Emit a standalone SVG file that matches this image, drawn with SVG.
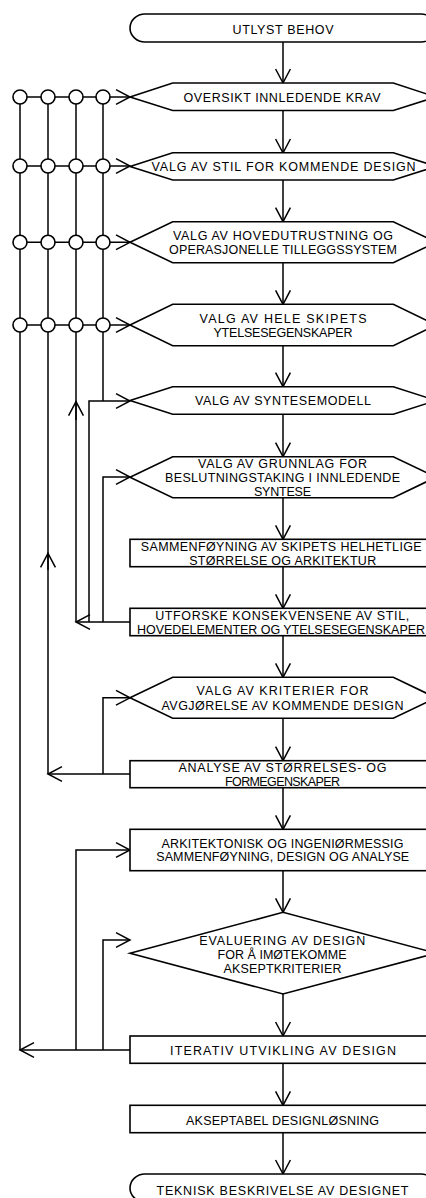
<svg xmlns="http://www.w3.org/2000/svg" width="426" height="1198" viewBox="0 0 426 1198">
<style>
.s{fill:#fff;stroke:#000;stroke-width:1.6}
.c{fill:none;stroke:#000;stroke-width:1.5}
.t{font-family:"Liberation Sans",Arial,sans-serif;font-size:12.5px;fill:#000;text-anchor:middle}
</style>
<defs>
<marker id="ah" markerUnits="userSpaceOnUse" orient="auto" markerWidth="20" markerHeight="20" viewBox="-16 -10 20 20" refX="0" refY="0" overflow="visible">
<path d="M-14,-7.4 L0,0 L-14,7.4" fill="none" stroke="#000" stroke-width="1.5"/>
</marker>
</defs>
<rect width="426" height="1198" fill="#fff"/>
<g id="connectors">
<path class="c" d="M283,42 V83" marker-end="url(#ah)"/>
<path class="c" d="M283,110.5 V153" marker-end="url(#ah)"/>
<path class="c" d="M283,180 V221.7" marker-end="url(#ah)"/>
<path class="c" d="M283,262.7 V304.3" marker-end="url(#ah)"/>
<path class="c" d="M283,345.7 V386.7" marker-end="url(#ah)"/>
<path class="c" d="M283,414.3 V456.7" marker-end="url(#ah)"/>
<path class="c" d="M283,497.7 V539.3" marker-end="url(#ah)"/>
<path class="c" d="M283,566.7 V608.3" marker-end="url(#ah)"/>
<path class="c" d="M283,635.7 V677.3" marker-end="url(#ah)"/>
<path class="c" d="M283,718.3 V760.7" marker-end="url(#ah)"/>
<path class="c" d="M283,787.7 V829.3" marker-end="url(#ah)"/>
<path class="c" d="M283,870.7 V912.3" marker-end="url(#ah)"/>
<path class="c" d="M283,994 V1036" marker-end="url(#ah)"/>
<path class="c" d="M283,1063.3 V1105.3" marker-end="url(#ah)"/>
<path class="c" d="M283,1132.7 V1174" marker-end="url(#ah)"/>
<path class="c" d="M20,97 H130" marker-end="url(#ah)"/>
<path class="c" d="M20,166 H130" marker-end="url(#ah)"/>
<path class="c" d="M20,242.3 H130" marker-end="url(#ah)"/>
<path class="c" d="M20,325 H130" marker-end="url(#ah)"/>
<path class="c" d="M20,97 V1050"/>
<path class="c" d="M48,97 V774"/>
<path class="c" d="M76,97 V622"/>
<path class="c" d="M103,97 V401"/>
<path class="c" d="M130,622 H76" marker-end="url(#ah)"/>
<path class="c" d="M89,622 V401 H130" marker-end="url(#ah)"/>
<path class="c" d="M103,622 V477 H130" marker-end="url(#ah)"/>
<path class="c" d="M76,420 V401.7" marker-end="url(#ah)"/>
<path class="c" d="M130,774 H48" marker-end="url(#ah)"/>
<path class="c" d="M103,774 V697.8 H130" marker-end="url(#ah)"/>
<path class="c" d="M48,570 V553.3" marker-end="url(#ah)"/>
<path class="c" d="M130,1050 H20" marker-end="url(#ah)"/>
<path class="c" d="M76,1050 V850 H130" marker-end="url(#ah)"/>
<path class="c" d="M103,1050 V940 H130" marker-end="url(#ah)"/>
</g>
<g id="junctions">
<circle class="s" cx="20" cy="97" r="7"/><circle class="s" cx="48" cy="97" r="7"/><circle class="s" cx="76" cy="97" r="7"/><circle class="s" cx="103" cy="97" r="7"/>
<circle class="s" cx="20" cy="166" r="7"/><circle class="s" cx="48" cy="166" r="7"/><circle class="s" cx="76" cy="166" r="7"/><circle class="s" cx="103" cy="166" r="7"/>
<circle class="s" cx="20" cy="242.3" r="7"/><circle class="s" cx="48" cy="242.3" r="7"/><circle class="s" cx="76" cy="242.3" r="7"/><circle class="s" cx="103" cy="242.3" r="7"/>
<circle class="s" cx="20" cy="325" r="7"/><circle class="s" cx="48" cy="325" r="7"/><circle class="s" cx="76" cy="325" r="7"/><circle class="s" cx="103" cy="325" r="7"/>
</g>
<g id="n1"><rect class="s" x="130" y="14" width="306" height="28" rx="15" ry="14"/><text class="t" x="283" y="33.5" textLength="101">UTLYST BEHOV</text></g>
<g id="n2"><path class="s" d="M130,97 L172.7,83 H393.3 L436,97 L393.3,110.5 H172.7 Z"/><text class="t" x="282" y="101.9" textLength="197">OVERSIKT INNLEDENDE KRAV</text></g>
<g id="n3"><path class="s" d="M130,166.4 L172.7,152.7 H393.3 L436,166.4 L393.3,180 H172.7 Z"/><text class="t" x="283.5" y="171.2" textLength="264">VALG AV STIL FOR KOMMENDE DESIGN</text></g>
<g id="n4"><path class="s" d="M130,242.3 L172.7,221.7 H393.3 L436,242.3 L393.3,262.7 H172.7 Z"/><text class="t" x="283" y="239.5" textLength="220">VALG AV HOVEDUTRUSTNING OG</text><text class="t" x="283" y="254.2" textLength="228">OPERASJONELLE TILLEGGSSYSTEM</text></g>
<g id="n5"><path class="s" d="M130,325 L172.7,304.3 H393.3 L436,325 L393.3,345.7 H172.7 Z"/><text class="t" x="283" y="322.9" textLength="167">VALG AV HELE SKIPETS</text><text class="t" x="283" y="336.9" textLength="139">YTELSESEGENSKAPER</text></g>
<g id="n6"><path class="s" d="M130,400.5 L172.7,386.7 H393.3 L436,400.5 L393.3,414.3 H172.7 Z"/><text class="t" x="283" y="405.4" textLength="176">VALG AV SYNTESEMODELL</text></g>
<g id="n7"><path class="s" d="M130,477.2 L172.7,456.7 H393.3 L436,477.2 L393.3,497.7 H172.7 Z"/><text class="t" x="282.5" y="467.9" textLength="169">VALG AV GRUNNLAG FOR</text><text class="t" x="282.5" y="482.2" textLength="235">BESLUTNINGSTAKING I INNLEDENDE</text><text class="t" x="282.5" y="495.9" textLength="57">SYNTESE</text></g>
<g id="n8"><rect class="s" x="130" y="539.3" width="306" height="27.4"/><text class="t" x="281.2" y="551.2" textLength="281">SAMMENFØYNING AV SKIPETS HELHETLIGE</text><text class="t" x="282.7" y="565.2" textLength="187">STØRRELSE OG ARKITEKTUR</text></g>
<g id="n9"><rect class="s" x="130" y="608.3" width="306" height="27.4"/><text class="t" x="282.2" y="620.2" textLength="254">UTFORSKE KONSEKVENSENE AV STIL,</text><text class="t" x="281" y="634.2" textLength="288">HOVEDELEMENTER OG YTELSESEGENSKAPER</text></g>
<g id="n10"><path class="s" d="M130,697.8 L172.7,677.3 H393.3 L436,697.8 L393.3,718.3 H172.7 Z"/><text class="t" x="282.5" y="695.2" textLength="172">VALG AV KRITERIER FOR</text><text class="t" x="282.5" y="709.5" textLength="242">AVGJØRELSE AV KOMMENDE DESIGN</text></g>
<g id="n11"><rect class="s" x="130" y="760.7" width="306" height="27"/><text class="t" x="282.5" y="771.9" textLength="208">ANALYSE AV STØRRELSES- OG</text><text class="t" x="282.5" y="786.2" textLength="115">FORMEGENSKAPER</text></g>
<g id="n12"><rect class="s" x="130" y="829.3" width="306" height="41.4"/><text class="t" x="282.5" y="847.5" textLength="242">ARKITEKTONISK OG INGENIØRMESSIG</text><text class="t" x="282.7" y="861.2" textLength="253">SAMMENFØYNING, DESIGN OG ANALYSE</text></g>
<g id="n13"><path class="s" d="M130,953.2 L283,912.3 L436,953.2 L283,994 Z"/><text class="t" x="282.2" y="944.5" textLength="166">EVALUERING AV DESIGN</text><text class="t" x="282" y="958.5" textLength="129">FOR Å IMØTEKOMME</text><text class="t" x="282.5" y="972.5" textLength="118">AKSEPTKRITERIER</text></g>
<g id="n14"><rect class="s" x="130" y="1036" width="306" height="27.3"/><text class="t" x="283" y="1055.2" textLength="226">ITERATIV UTVIKLING AV DESIGN</text></g>
<g id="n15"><rect class="s" x="130" y="1105.3" width="306" height="27.4"/><text class="t" x="282.5" y="1124.5" textLength="193">AKSEPTABEL DESIGNLØSNING</text></g>
<g id="n16"><rect class="s" x="130" y="1174" width="306" height="28" rx="15" ry="14"/><text class="t" x="282.5" y="1194.5" textLength="252">TEKNISK BESKRIVELSE AV DESIGNET</text></g>
</svg>
